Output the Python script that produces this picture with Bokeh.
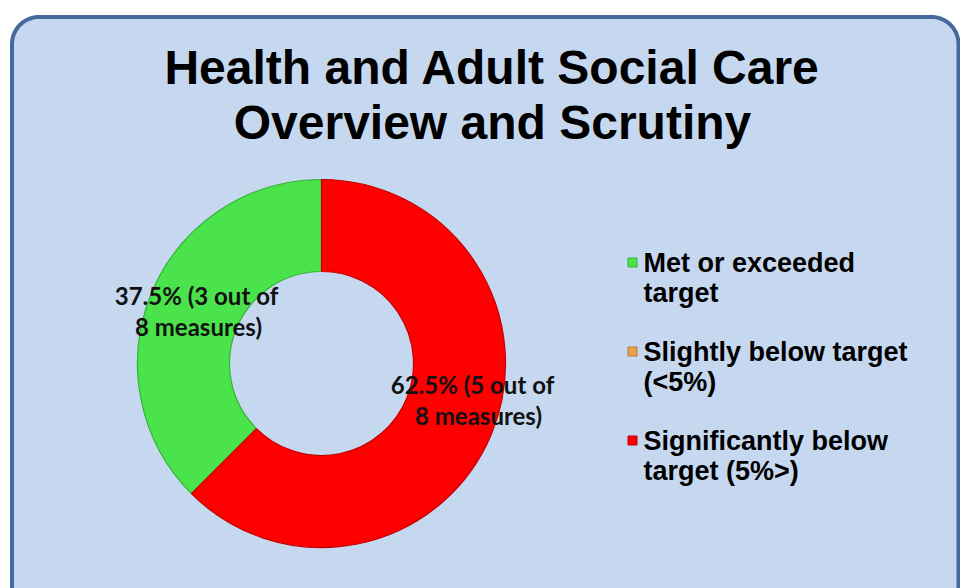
import numpy as np
from bokeh.plotting import figure
from bokeh.models import Range1d
from bokeh.core.properties import value
from bokeh.embed import file_html
from bokeh.resources import INLINE

# ---- data ----
title_lines = ["Health and Adult Social Care", "Overview and Scrutiny"]
categories = ["Met or exceeded target", "Slightly below target (<5%)", "Significantly below target (5%>)"]
legend_lines = [["Met or exceeded", "target"], ["Slightly below target", "(<5%)"], ["Significantly below", "target (5%>)"]]
counts = [3, 0, 5]
colors = ["#4be34b", "#e9a04e", "#fe0000"]
edge_colors = ["#36b236", "#b87830", "#c00000"]

W, H = 960, 588
def X(sx):
    return sx
def Y(sy):
    return H - sy

p = figure(width=W, height=H, output_backend="svg", toolbar_location=None,
           x_range=Range1d(0, W), y_range=Range1d(0, H), min_border=0)
p.axis.visible = False
p.grid.visible = False
p.outline_line_color = None
p.background_fill_color = "white"
p.border_fill_color = "white"

# rounded panel
l, t, r, b, rad = X(11.5), Y(16.5), X(958), Y(615), 27
px, py = [], []
for (cx, cy, a0, a1) in [(r - rad, t - rad, 90, 0), (r - rad, b + rad, 0, -90),
                         (l + rad, b + rad, -90, -180), (l + rad, t - rad, 180, 90)]:
    a = np.radians(np.linspace(a0, a1, 20))
    px += list(cx + rad * np.cos(a))
    py += list(cy + rad * np.sin(a))
p.patch(px, py, fill_color="#c6d8ef", line_color="#44699a", line_width=4)

# title
for i, line in enumerate(title_lines):
    p.text(x=[X(492)], y=[Y(67 + 55 * i)], text=[line], text_align="center", text_baseline="middle",
           text_font=value("Liberation Sans"), text_font_style="bold", text_font_size="48px",
           text_color="black")

# donut
total = sum(counts)
cx, cy = X(321), Y(363)
start = np.pi / 2
starts, ends = [], []
for c in counts:
    ang = 2 * np.pi * c / total
    starts.append(start)
    ends.append(start + ang)
    start += ang
for i, c in enumerate(counts):
    if c == 0:
        continue
    p.annular_wedge(x=cx, y=cy, inner_radius=92, outer_radius=184,
                    start_angle=starts[i], end_angle=ends[i], direction="anticlock",
                    fill_color=colors[i], line_color=edge_colors[i], line_width=1.2)

# data labels
label_pos = {0: [(196, 295), (198, 326)], 2: [(472, 384), (478, 415)]}
for i, c in enumerate(counts):
    if c == 0:
        continue
    pct = 100.0 * c / total
    lines = [f"{pct:.1f}% ({c} out of", f"{total} measures)"]
    for (sx, sy), line in zip(label_pos[i], lines):
        p.text(x=[X(sx)], y=[Y(sy)], text=[line], text_align="center", text_baseline="middle",
               text_font=value("Lato"), text_font_style="bold", text_font_size="24px",
               text_color="#111111")

# legend
for i, cat in enumerate(categories):
    y0 = 262 + 89 * i
    p.scatter(x=[X(632)], y=[Y(y0)], marker="square", size=9,
              fill_color=colors[i], line_color=edge_colors[i], line_width=1)
    for j, line in enumerate(legend_lines[i]):
        p.text(x=[X(643)], y=[Y(y0 + 30 * j)], text=[line], text_align="left", text_baseline="middle",
               text_font=value("Liberation Sans"), text_font_style="bold", text_font_size="27px",
               text_color="black")

open("out.html", "w").write(file_html(p, INLINE))
